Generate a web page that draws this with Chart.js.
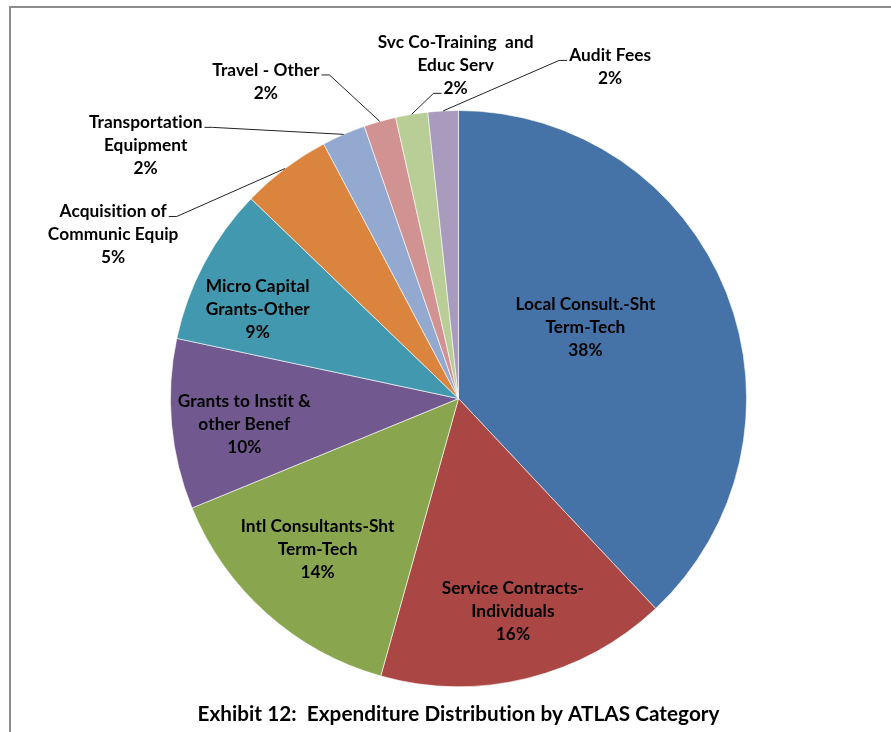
<!DOCTYPE html>
<html>
<head>
<meta charset="utf-8">
<script src="https://cdn.jsdelivr.net/npm/chart.js@4/dist/chart.umd.min.js"></script>
<style>
  body { margin: 0; background: #fff; }
  #wrap { position: relative; width: 891px; height: 732px; overflow: hidden; }
  #frame { position: absolute; left: 9px; top: 6px; right: -10px; bottom: -10px;
           border-top: 2px solid #8c8c8c; border-left: 2px solid #8c8c8c; }
  canvas { position: absolute; left: 0; top: 0; }
</style>
</head>
<body>
<div id="wrap">
  <div id="frame"></div>
  <canvas id="pie" width="891" height="732"></canvas>
</div>
<script>
// categories, wrapped the way the labels show them
const categories = [
  ['Local Consult.-Sht', 'Term-Tech'],
  ['Service Contracts-', 'Individuals'],
  ['Intl Consultants-Sht', 'Term-Tech'],
  ['Grants to Instit &', 'other Benef'],
  ['Micro Capital', 'Grants-Other'],
  ['Acquisition of', 'Communic Equip'],
  ['Transportation', 'Equipment'],
  ['Travel - Other'],
  ['Svc Co-Training  and', 'Educ Serv'],
  ['Audit Fees']
];
// share of expenditure, in percent
const values = [38.0, 16.35, 14.45, 9.55, 8.85, 5.05, 2.45, 1.8, 1.8, 1.7];
const colors = ['#4572A7', '#AA4643', '#89A54E', '#71588F', '#4198AF',
                '#DB843D', '#93A9CF', '#D19392', '#B9CD96', '#A99BBD'];
const titleText = 'Exhibit 12:  Expenditure Distribution by ATLAS Category';

// where each label sits: inside ones along the slice bisector (r = part of radius),
// outside ones offset from the slice's outer edge, with a leader line
const labelPlace = [
  { r: 0.5, dx: -7, dy: -18 },
  { r: 0.75, dx: 3, dy: 3 },
  { r: 0.72, dx: -3, dy: -4 },
  { r: 0.75, dx: 1, dy: 7 },
  { r: 0.75, dx: -10, dy: 12 },
  { out: true, dx: -172, dy: 66, side: 'right', line: 0 },
  { out: true, dx: -198, dy: 11, side: 'right', line: 0 },
  { out: true, dx: -114, dy: -40, side: 'right', line: 0 },
  { out: true, dx: 44, dy: -49, side: 'left', line: 2 },
  { out: true, dx: 167, dy: -44, side: 'left', line: 0 }
];

const FONT = 'Lato, "Open Sans", sans-serif';
const LINE_H = 23;

// tiny letter spacing switches off Lato's "ti" ligature
const noLigatures = {
  id: 'noLigatures',
  beforeDraw(chart) { chart.ctx.letterSpacing = '0.05px'; }
};

const sliceLabels = {
  id: 'sliceLabels',
  afterDatasetsDraw(chart) {
    const ctx = chart.ctx;
    const meta = chart.getDatasetMeta(0);
    const total = values.reduce((a, b) => a + b, 0);
    ctx.save();
    ctx.letterSpacing = '0.05px';
    ctx.font = 'bold 17.3px ' + FONT;
    ctx.fillStyle = '#000';
    ctx.textAlign = 'center';
    ctx.textBaseline = 'middle';
    ctx.strokeStyle = '#222';
    ctx.lineWidth = 1;

    meta.data.forEach((arc, i) => {
      const p = arc.getProps(['x', 'y', 'startAngle', 'endAngle', 'outerRadius'], true);
      const mid = (p.startAngle + p.endAngle) / 2;
      const place = labelPlace[i];
      const lines = categories[i].concat(Math.round(values[i] / total * 100) + '%');
      let cx, cy;
      const ex = p.x + Math.cos(mid) * p.outerRadius;
      const ey = p.y + Math.sin(mid) * p.outerRadius;
      if (place.out) {
        cx = ex + place.dx;
        cy = ey + place.dy;
      } else {
        cx = p.x + Math.cos(mid) * p.outerRadius * place.r + place.dx;
        cy = p.y + Math.sin(mid) * p.outerRadius * place.r + place.dy;
      }
      const top = cy - (lines.length - 1) * LINE_H / 2;
      lines.forEach((t, k) => ctx.fillText(t, cx, top + k * LINE_H));

      if (place.out) {
        const ly = top + place.line * LINE_H + 5;
        const w = ctx.measureText(lines[place.line]).width;
        const sx = place.side === 'right' ? cx + w / 2 + 2 : cx - w / 2 - 2;
        const hx = place.side === 'right' ? sx + 8 : sx - 8;
        ctx.beginPath();
        ctx.moveTo(sx, ly);
        ctx.lineTo(hx, ly);
        ctx.lineTo(ex, ey);
        ctx.stroke();
      }
    });
    ctx.restore();
  }
};

new Chart(document.getElementById('pie'), {
  type: 'pie',
  data: {
    labels: categories.map(c => c.join(' ')),
    datasets: [{
      data: values,
      backgroundColor: colors,
      borderColor: 'rgba(255,255,255,0.6)',
      borderWidth: 1
    }]
  },
  options: {
    responsive: false,
    animation: false,
    layout: { padding: { top: 110, bottom: 0, left: 100, right: 74 } },
    plugins: {
      legend: { display: false },
      tooltip: { enabled: false },
      title: {
        display: true,
        position: 'bottom',
        text: titleText,
        color: '#000',
        font: { family: FONT, size: 20.7, weight: 'bold' },
        padding: { top: 15, bottom: 5 }
      }
    }
  },
  plugins: [noLigatures, sliceLabels]
});
</script>
</body>
</html>
